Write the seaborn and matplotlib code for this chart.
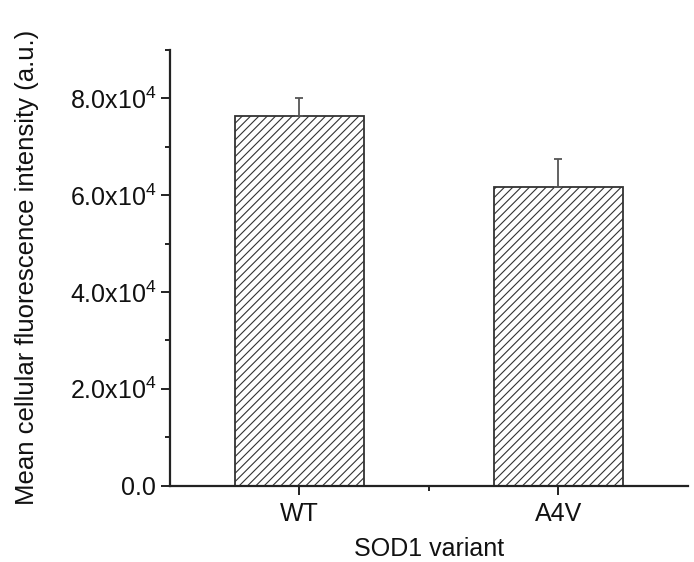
import matplotlib
matplotlib.use("Agg")
import matplotlib.pyplot as plt
import seaborn as sns
import pandas as pd
from matplotlib.ticker import FuncFormatter, MultipleLocator, FixedLocator

# Data
variants = ["WT", "A4V"]
mean_intensity = [76300, 61600]
err_upper = [3800, 5800]

sns.set_style("ticks")
plt.rcParams['font.family'] = ['Liberation Sans', 'DejaVu Sans']
plt.rcParams['mathtext.fontset'] = 'custom'
plt.rcParams['mathtext.rm'] = 'Liberation Sans'
plt.rcParams['hatch.linewidth'] = 0.8
plt.rcParams['hatch.color'] = '#333333'

df = pd.DataFrame({'variant': variants, 'intensity': mean_intensity})

fig = plt.figure(figsize=(6.94, 5.62), dpi=100)
ax = fig.add_axes([0.245, 0.136, 0.746, 0.775])

sns.barplot(data=df, x='variant', y='intensity', color='white', width=0.5,
            edgecolor='#333333', linewidth=1.3, hatch='////', errorbar=None, ax=ax)

ax.errorbar(range(len(variants)), mean_intensity,
            yerr=[[0] * len(err_upper), err_upper],
            fmt='none', ecolor='#555555', elinewidth=1.3, capsize=3, capthick=1.3, zorder=1)

ax.set_xlim(-0.5, 1.5)
ax.set_ylim(0, 90000)

ax.yaxis.set_major_locator(MultipleLocator(20000))
ax.yaxis.set_minor_locator(MultipleLocator(10000))
ax.xaxis.set_minor_locator(FixedLocator([0.5]))


def fmt(v, pos):
    if v == 0:
        return "0.0"
    return r"$\mathregular{%.1fx10^{4}}$" % (v / 1e4)


ax.yaxis.set_major_formatter(FuncFormatter(fmt))

sns.despine(ax=ax)
for s in ['left', 'bottom']:
    ax.spines[s].set_linewidth(1.6)
    ax.spines[s].set_color('#222222')

ax.tick_params(axis='both', which='major', direction='out', length=6.5, width=1.4,
               labelsize=18, colors='#222222', labelcolor='#111111')
ax.tick_params(axis='both', which='minor', direction='out', length=3.5, width=1.4, colors='#222222')
ax.tick_params(axis='x', which='major', pad=5)

ax.set_xlabel("SOD1 variant", fontsize=18, labelpad=8, color='#111111')
ax.set_ylabel("Mean cellular fluorescence intensity (a.u.)", fontsize=18.5, labelpad=22, color='#111111')

fig.savefig("out.png", dpi=100)
